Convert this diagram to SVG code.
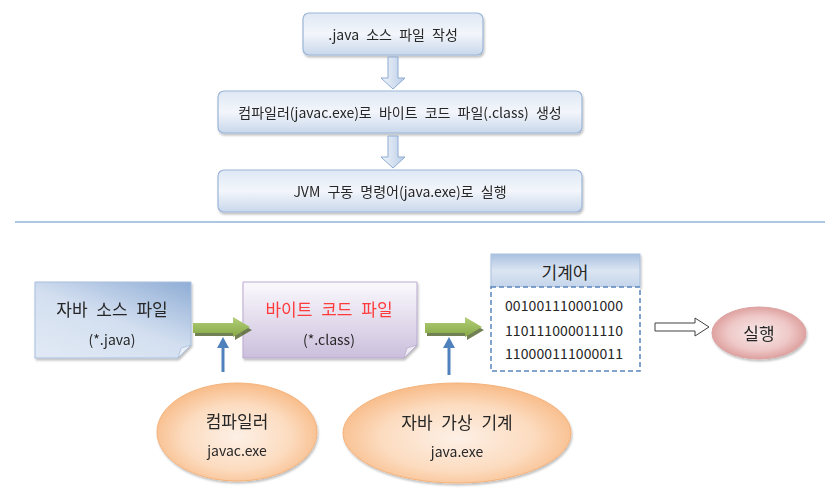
<svg xmlns="http://www.w3.org/2000/svg" width="840" height="499" viewBox="0 0 840 499">
<defs>
<style>
text{font-family:"Noto Sans CJK KR","Noto Sans",sans-serif;fill:#262626;text-anchor:middle;dominant-baseline:central}
.t{font-size:14px;word-spacing:4px}
.m{font-size:17px;word-spacing:5px}
.s{font-size:14px}
.step{fill:url(#gStep);stroke:#9cb6d8;stroke-width:1.2}
.down{fill:url(#gDown);stroke:#8eabd3;stroke-width:1}
.green{fill:url(#gGreen)}
.gshadow{fill:#4f6228;opacity:0.8}
.blue{fill:#4f81bd}
.orange{fill:url(#gOrange);stroke:#f5b27a;stroke-width:1}
</style>
<linearGradient id="gStep" x1="0" y1="0" x2="0" y2="1">
<stop offset="0" stop-color="#dfe8f4"/>
<stop offset="0.5" stop-color="#f3f6fb"/>
<stop offset="1" stop-color="#c8d7eb"/>
</linearGradient>
<linearGradient id="gDown" x1="0" y1="0" x2="1" y2="0">
<stop offset="0" stop-color="#f2f6fb"/>
<stop offset="1" stop-color="#b9cce6"/>
</linearGradient>
<linearGradient id="gSrc" x1="1" y1="0" x2="0.2" y2="1">
<stop offset="0" stop-color="#8fadd5"/>
<stop offset="0.55" stop-color="#d3dff0"/>
<stop offset="1" stop-color="#dfe8f4"/>
</linearGradient>
<linearGradient id="gByte" x1="0" y1="0" x2="0" y2="1">
<stop offset="0" stop-color="#fbf9fd"/>
<stop offset="1" stop-color="#cbbfdc"/>
</linearGradient>
<linearGradient id="gGreen" x1="0" y1="0" x2="0" y2="1">
<stop offset="0" stop-color="#b3cf79"/>
<stop offset="1" stop-color="#86a845"/>
</linearGradient>
<linearGradient id="gHead" x1="0" y1="0" x2="0" y2="1">
<stop offset="0" stop-color="#a9c1e0"/>
<stop offset="0.5" stop-color="#dbe5f2"/>
<stop offset="1" stop-color="#c4d5ea"/>
</linearGradient>
<radialGradient id="gOrange" cx="0.5" cy="0.55" r="0.55">
<stop offset="0" stop-color="#fdf0e6"/>
<stop offset="0.6" stop-color="#fcdcc0"/>
<stop offset="1" stop-color="#f8bb88"/>
</radialGradient>
<radialGradient id="gRed" cx="0.5" cy="0.5" r="0.55">
<stop offset="0" stop-color="#f8eaea"/>
<stop offset="0.6" stop-color="#eec8c7"/>
<stop offset="1" stop-color="#d99694"/>
</radialGradient>
<filter id="sh" x="-10%" y="-10%" width="125%" height="130%">
<feDropShadow dx="1" dy="2" stdDeviation="1.2" flood-color="#000" flood-opacity="0.25"/>
</filter>
</defs>

<g id="step1" filter="url(#sh)">
<rect class="step" x="303" y="13" width="180" height="42" rx="6"/>
<text class="t" x="393" y="34">.java 소스 파일 작성</text>
</g>
<g id="step2" filter="url(#sh)">
<rect class="step" x="218" y="91" width="364" height="42" rx="6"/>
<text class="t" x="400" y="112">컴파일러(javac.exe)로 바이트 코드 파일(.class) 생성</text>
</g>
<g id="step3" filter="url(#sh)">
<rect class="step" x="218" y="170" width="364" height="42" rx="6"/>
<text class="t" x="400" y="191">JVM 구동 명령어(java.exe)로 실행</text>
</g>

<g id="separator">
<line x1="15" y1="222" x2="825" y2="222" stroke="#95b3d7" stroke-width="1.5"/>
</g>

<g id="source" filter="url(#sh)">
<path d="M35,282 H191 V345 L178,358 H35 Z" fill="url(#gSrc)" stroke="#a7bedd" stroke-width="1"/>
<path d="M178,358 L181,348 L191,345 Z" fill="#e9eff7" stroke="#a7bedd" stroke-width="0.8"/>
<text class="m" x="112" y="308">자바 소스 파일</text>
<text class="s" x="112" y="339">(*.java)</text>
</g>

<g id="bytecode" filter="url(#sh)">
<path d="M243,282 H417 V345 L404,358 H243 Z" fill="url(#gByte)" stroke="#b9a9cf" stroke-width="1"/>
<path d="M404,358 L407,348 L417,345 Z" fill="#f1edf6" stroke="#b9a9cf" stroke-width="0.8"/>
<text class="m" x="329" y="308" style="fill:#ff3b3b">바이트 코드 파일</text>
<text class="s" x="329" y="339">(*.class)</text>
</g>

<g id="machine">
<rect x="491" y="254" width="149" height="33" fill="url(#gHead)" stroke="#a9bfdd" stroke-width="1" filter="url(#sh)"/>
<text class="m" x="565" y="271">기계어</text>
<rect x="491" y="287" width="149" height="84" fill="#ffffff" stroke="#5b87c0" stroke-width="1.5" stroke-dasharray="5,3"/>
<text class="s" x="564" y="305" textLength="118" lengthAdjust="spacing">001001110001000</text>
<text class="s" x="564" y="330" textLength="118" lengthAdjust="spacing">110111000011110</text>
<text class="s" x="564" y="353" textLength="118" lengthAdjust="spacing">110000111000011</text>
</g>

<g id="run" filter="url(#sh)">
<ellipse cx="759" cy="333" rx="47" ry="26" fill="url(#gRed)" stroke="#dca3a2" stroke-width="1"/>
<text class="m" x="759" y="332">실행</text>
</g>

<g id="compiler" filter="url(#sh)">
<ellipse class="orange" cx="237" cy="432" rx="80" ry="49"/>
<text class="m" x="237" y="420">컴파일러</text>
<text class="s" x="237" y="450">javac.exe</text>
</g>

<g id="jvm" filter="url(#sh)">
<ellipse class="orange" cx="457" cy="433" rx="114" ry="50"/>
<text class="m" x="457" y="421">자바 가상 기계</text>
<text class="s" x="457" y="451">java.exe</text>
</g>

<g id="connectors">
<path class="down" d="M388,57 H398 V78 H405 L393,89 L381,78 H388 Z"/>
<path class="down" d="M388,136 H398 V157 H405 L393,168 L381,157 H388 Z"/>
<path class="gshadow" d="M195,326 H235 V321 L252,330 L235,340 V336 H195 Z"/>
<path class="green" d="M193,323 H233 V317 L250,327 L233,337 V333 H193 Z"/>
<path class="gshadow" d="M427,326 H467 V321 L484,330 L467,340 V336 H427 Z"/>
<path class="green" d="M425,323 H465 V317 L482,327 L465,337 V333 H425 Z"/>
<path class="blue" d="M223,337 L229,348 H224.5 V372 H221.5 V348 H217 Z"/>
<path class="blue" d="M449,337 L455,348 H450.5 V375 H447.5 V348 H443 Z"/>
<path d="M655,323 H695 V318 L709,327 L695,336 V331 H655 Z" fill="#ffffff" stroke="#404040" stroke-width="1"/>
</g>
</svg>
